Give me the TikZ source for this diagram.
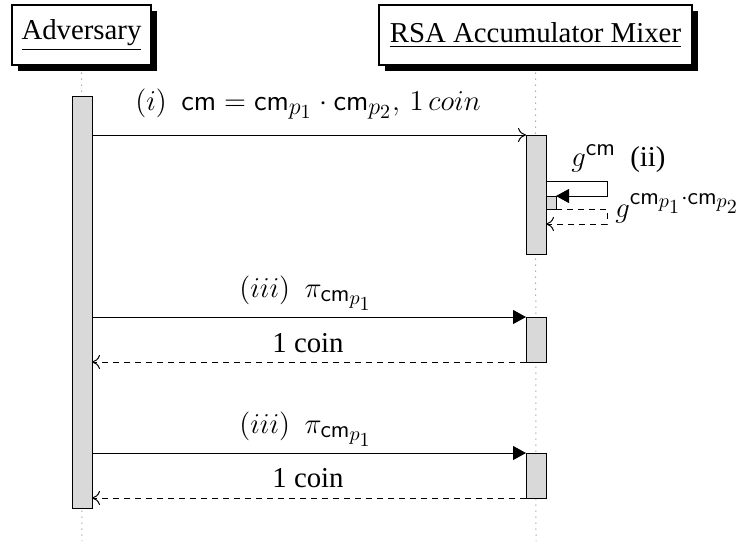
\documentclass[tikz,border=0pt]{standalone}
\usepackage[no-math]{fontspec}
\setmainfont{Liberation Serif}
\usetikzlibrary{arrows.meta,shadows}
\DeclareMathSizes{14.4}{14.4}{12}{10}

\tikzset{
  actor/.style={draw, fill=white, line width=0.6pt, inner sep=0pt,
    font=\fontsize{14.4}{17}\selectfont,
    drop shadow={fill=black, opacity=1, shadow xshift=3pt, shadow yshift=-3pt}},
  lifeline/.style={draw=gray, line width=0.5pt, dash pattern=on 0.5pt off 2.5pt},
  actbar/.style={draw, fill=gray!30, line width=0.5pt, inner sep=0pt, outer sep=0pt,
    minimum width=10pt},
  subbar/.style={actbar, minimum width=5pt},
  msgopen/.style={line width=0.5pt, -{To[length=4pt,width=7pt]}},
  msgsync/.style={line width=0.5pt, -{Triangle[length=6.5pt,width=7pt]}},
  msgret/.style={line width=0.5pt, dash pattern=on 3pt off 2.5pt, -{To[length=4pt,width=7pt]}},
  lbl/.style={inner sep=0pt, font=\fontsize{14.4}{17}\selectfont},
}

\begin{document}
\begin{tikzpicture}[x=0.5pt, y=-0.5pt]
  \useasboundingbox (0,0) rectangle (737,541);

  % participants
  \node[actor, minimum width=69.5pt, minimum height=30pt] (adv) at (81.5,35) {\underline{Adversary}};
  \node[actor, minimum width=156.5pt, minimum height=30pt] (mix) at (535.5,35) {\underline{RSA Accumulator Mixer}};

  % lifelines
  \coordinate (advend) at (82,541);
  \coordinate (mixend) at (536,541);
  \draw[lifeline] (adv.south) ++(0,7) -- (advend);
  \draw[lifeline] (mix.south) ++(0,7) -- (mixend);

  % activation bars
  \node[actbar, minimum height=206pt] (a1) at (82,302) {};
  \node[actbar, minimum height=59.5pt] (b1) at (536,194.5) {};
  \node[subbar, minimum height=6.5pt] (c1) at (551,202.5) {};
  \node[actbar, minimum height=22.5pt] (b2) at (536,339.5) {};
  \node[actbar, minimum height=22.5pt] (b3) at (536,475.5) {};

  % (i) commitment and coin
  \draw[msgopen] (a1.east |- b1.north) -- (b1.north west);
  \node[lbl, anchor=base] (li) at (308,110)
    {$(i)\ \ \mathsf{cm}=\mathsf{cm}_{p_1}\cdot\mathsf{cm}_{p_2},\, 1\, coin$};

  % (ii) self call
  \coordinate (selfA) at (607,181);
  \coordinate (selfB) at (607,196);
  \draw[msgsync] (b1.east |- selfA) -- (selfA) -- (selfB) -- (c1.north east);
  \node[lbl, anchor=base west] (lii) at (571,166) {$g^{\mathsf{cm}}$\ \ (ii)};

  \coordinate (selfC) at (607,209);
  \coordinate (selfD) at (607,224);
  \draw[msgret] (c1.south east) -- (selfC) -- (selfD) -- (b1.east |- selfD);
  \node[lbl, anchor=base west] (lret) at (615,217) {$g^{\mathsf{cm}_{p_1}\cdot\mathsf{cm}_{p_2}}$};

  % (iii) first proof
  \draw[msgsync] (a1.east |- b2.north) -- (b2.north west);
  \node[lbl, anchor=base] (liii1) at (306,297) {$(iii)\ \ \pi_{\mathsf{cm}_{p_1}}$};
  \draw[msgret] (b2.south west) -- (a1.east |- b2.south);
  \node[lbl, anchor=base] (lc1) at (308,352) {1 coin};

  % (iii) second proof
  \draw[msgsync] (a1.east |- b3.north) -- (b3.north west);
  \node[lbl, anchor=base] (liii2) at (306,433) {$(iii)\ \ \pi_{\mathsf{cm}_{p_1}}$};
  \draw[msgret] (b3.south west) -- (a1.east |- b3.south);
  \node[lbl, anchor=base] (lc2) at (308,487) {1 coin};
\end{tikzpicture}
\end{document}
